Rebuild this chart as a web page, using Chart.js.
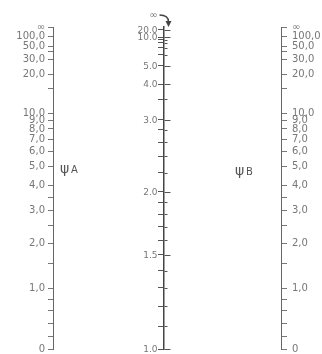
<!DOCTYPE html>
<html>
<head>
<meta charset="utf-8">
<script src="https://cdn.jsdelivr.net/npm/chart.js@4/dist/chart.umd.min.js"></script>
<style>
  html, body { margin: 0; padding: 0; background: #fff; }
  canvas { display: block; }
</style>
</head>
<body>
<canvas id="nomo" width="322" height="354"></canvas>
<script>
// valores marcados en las escalas psi (A y B)
const psiMajor = [0, 1, 2, 3, 4, 5, 6, 7, 8, 9, 10, 20, 30, 50, 100, Infinity];
const psiMinor = [0.2, 0.4, 0.6, 0.8, 1.5, 2.5, 3.5, 15, 40];
// valores marcados en la escala K (central)
const kMajor = [1.0, 1.5, 2.0, 3.0, 4.0, 5.0, 10.0, 20.0];
const kMinor = [1.1, 1.2, 1.3, 1.4, 1.6, 1.7, 1.8, 1.9, 2.2, 2.4, 2.6, 2.8, 3.5, 6, 7, 8, 9];

const K_AXIS_AT = 0.487;   // donde va la escala K entre las dos escalas psi

// posicion relativa (0 abajo, 1 arriba) de un valor psi
function fracPsi(psi, expo, cte) {
    if (psi === Infinity) return 1;
    const p = Math.pow(psi, expo) / cte;
    return p / (1 + p);
}

// psi equivalente para K con psiA = psiB (porticos desplazables)
function psiForK(k) {
    if (k === Infinity) return Infinity;
    const x = Math.PI / k;
    const r = x / Math.tan(x);
    return 6 / (Math.hypot(r, x) - r);
}

class NomoScale extends Chart.Scale {
    determineDataLimits() { this.min = 0; this.max = 1; }
    buildTicks() { return []; }
    getPixelForValue(v) {
        const o = this.options;
        const psi = o.variable === 'K' ? psiForK(v) : v;
        return this.getPixelForDecimal(fracPsi(psi, o.expo, o.cte));
    }
    getPixelForTick(i) { return this.getPixelForValue(this.ticks[i].value); }
    getValueForPixel(px) { return this.getDecimalForPixel(px); }
}
NomoScale.id = 'nomo';
NomoScale.defaults = { expo: 1, cte: 4 };
Chart.register(NomoScale);

const psiTicks = psiMajor.concat(psiMinor).sort((a, b) => a - b);
const kTicks = kMajor.concat(kMinor).sort((a, b) => a - b);

function psiLabel(v) {
    if (v === Infinity) return '∞';
    if (v === 0) return '0';
    if (!psiMajor.includes(v)) return '';
    return v.toFixed(1).replace('.', ',');
}
function kLabel(v) {
    return kMajor.includes(v) ? v.toFixed(1) : '';
}

// ancho fijo y sin el margen extra que pide el texto de los extremos
function ajustar(ancho) {
    return (s) => {
        if (ancho) s.width = ancho;
        s.paddingTop = 0;
        s.paddingBottom = 0;
    };
}

const fuente = { family: 'DejaVu Sans', size: 10 };

const extras = {
    id: 'extras',
    afterDraw(chart) {
        const ctx = chart.ctx;
        const yK = chart.scales.yK;
        const yA = chart.scales.yA;
        const kx = Math.round(chart.scales.x.getPixelForValue(K_AXIS_AT)) + 0.5;
        ctx.save();
        // las marcas de K cruzan la linea, los textos van a la izquierda
        ctx.strokeStyle = '#555';
        ctx.lineWidth = 1;
        ctx.fillStyle = '#777';
        ctx.font = '9px "DejaVu Sans"';
        ctx.textAlign = 'right';
        ctx.textBaseline = 'middle';
        yK.ticks.forEach((t) => {
            const y = Math.round(yK.getPixelForValue(t.value)) + 0.5;
            const txt = kLabel(t.value);
            ctx.beginPath();
            ctx.moveTo(kx, y);
            ctx.lineTo(kx + (txt ? 6 : 3), y);
            ctx.stroke();
            if (txt) ctx.fillText(txt, kx - 7, y);
        });
        // infinito con flecha curva
        const top = yK.top;
        ctx.font = '10px "DejaVu Sans"';
        ctx.fillText('∞', kx - 7, top - 12);
        ctx.strokeStyle = '#444';
        ctx.lineWidth = 1.5;
        ctx.beginPath();
        ctx.moveTo(kx - 5, top - 12);
        ctx.quadraticCurveTo(kx + 4, top - 12, kx + 4, top - 5);
        ctx.stroke();
        ctx.fillStyle = '#444';
        ctx.beginPath();
        ctx.moveTo(kx + 1, top - 6);
        ctx.lineTo(kx + 7, top - 6);
        ctx.lineTo(kx + 4, top);
        ctx.fill();
        // nombres de las escalas
        const yLab = yA.getPixelForValue(5) + 6;
        ctx.fillStyle = '#555';
        ctx.textAlign = 'left';
        ctx.textBaseline = 'alphabetic';
        ctx.font = '14px "DejaVu Sans"';
        ctx.fillText('ψ', 60, yLab);
        ctx.fillText('ψ', 235, yLab + 2);
        ctx.font = '10px "DejaVu Sans"';
        ctx.fillText('A', 71, yLab);
        ctx.fillText('B', 246, yLab + 2);
        ctx.restore();
    }
};

new Chart(document.getElementById('nomo'), {
    type: 'scatter',
    data: { datasets: [] },
    options: {
        responsive: false,
        animation: false,
        devicePixelRatio: 1,
        layout: { padding: { left: 0, right: 0, top: 27, bottom: 5 } },
        plugins: { legend: { display: false }, tooltip: { enabled: false } },
        scales: {
            x: { type: 'linear', min: 0, max: 1, display: false },
            yA: {
                type: 'nomo', axis: 'y', position: 'left', expo: 1.07, cte: 4.29,
                afterBuildTicks: (s) => { s.ticks = psiTicks.map((v) => ({ value: v })); },
                afterFit: ajustar(53),
                border: { color: '#666', width: 1 },
                grid: { drawOnChartArea: false, tickLength: 5, color: '#777' },
                ticks: { autoSkip: false, font: fuente, color: '#777', padding: 3, callback: psiLabel }
            },
            yB: {
                type: 'nomo', axis: 'y', position: 'right', expo: 1.07, cte: 4.29,
                afterBuildTicks: (s) => { s.ticks = psiTicks.map((v) => ({ value: v })); },
                afterFit: ajustar(41),
                border: { color: '#666', width: 1 },
                grid: { drawOnChartArea: false, tickLength: 6, color: '#777' },
                ticks: { autoSkip: false, font: fuente, color: '#777', padding: 5, callback: psiLabel }
            },
            yK: {
                type: 'nomo', axis: 'y', variable: 'K', position: { x: K_AXIS_AT }, expo: 1, cte: 4,
                afterBuildTicks: (s) => { s.ticks = kTicks.map((v) => ({ value: v })); },
                afterFit: ajustar(0),
                border: { color: '#444', width: 1.5 },
                grid: { drawOnChartArea: false, tickLength: 5, color: '#555' },
                ticks: { display: false, autoSkip: false, callback: kLabel }
            }
        }
    },
    plugins: [extras]
});
</script>
</body>
</html>
